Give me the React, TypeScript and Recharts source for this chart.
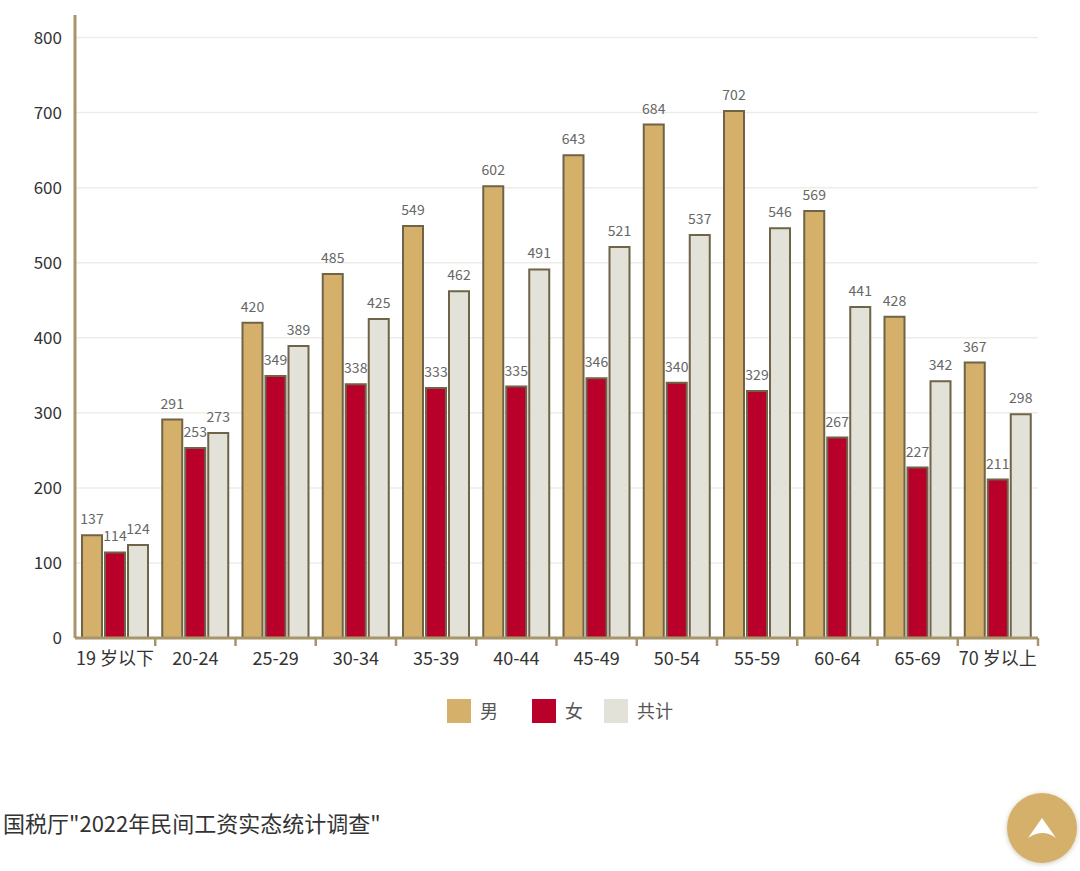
// App.tsx
import { BarChart, Bar, XAxis, YAxis, CartesianGrid, Legend, LabelList } from 'recharts';

const categories = ['19 岁以下', '20-24', '25-29', '30-34', '35-39', '40-44', '45-49', '50-54', '55-59', '60-64', '65-69', '70 岁以上'];
const male = [137, 291, 420, 485, 549, 602, 643, 684, 702, 569, 428, 367];
const female = [114, 253, 349, 338, 333, 335, 346, 340, 329, 267, 227, 211];
const total = [124, 273, 389, 425, 462, 491, 521, 537, 546, 441, 342, 298];
const yTicks = [0, 100, 200, 300, 400, 500, 600, 700, 800];

const data = categories.map((name, i) => ({ name, male: male[i], female: female[i], total: total[i] }));

const FONT = '"Noto Sans CJK SC", "Noto Sans", sans-serif';
const AXIS = '#a8956b';
const GOLD = '#d4b06a';
const RED = '#b8002a';
const BEIGE = '#e3e2d8';
const BAR_STROKE = '#6f6348';
const BAND = 963 / categories.length;

// tick mark sits on the category boundary, not under the label
const CategoryTick = ({ x, y, payload }: any) => (
  <g>
    <line x1={x + BAND / 2} x2={x + BAND / 2} y1={y - 8} y2={y} stroke={AXIS} strokeWidth={2.5} />
    <text x={x} y={y + 19} textAnchor="middle" fontSize={18} fill="#333" fontFamily={FONT}>
      {payload.value}
    </text>
  </g>
);

const legendGaps = [34, 21, 0];

const ChartLegend = ({ payload }: any) => (
  <div style={{ display: 'flex', justifyContent: 'flex-start', marginLeft: 447, fontFamily: FONT }}>
    {(payload || []).map((item: any, i: number) => (
      <div key={item.value} style={{ display: 'flex', alignItems: 'center', marginRight: legendGaps[i] }}>
        <span style={{ width: 24, height: 24, background: item.color, display: 'inline-block', marginRight: 9 }} />
        <span style={{ fontSize: 18, lineHeight: '24px', color: '#555', marginTop: -2 }}>{item.value}</span>
      </div>
    ))}
  </div>
);

const labelStyle = { fontSize: 14, fill: '#666', fontFamily: FONT };

export default function App() {
  return (
    <div style={{ position: 'absolute', left: 0, top: 0, width: 1080, height: 871, overflow: 'hidden', background: '#fff' }}>
      <BarChart
        width={1080}
        height={871}
        data={data}
        margin={{ top: 15, right: 42, bottom: 193, left: 0 }}
        barSize={20}
        barGap={3}
      >
        <CartesianGrid horizontal vertical={false} syncWithTicks stroke="#eeede5" strokeWidth={1.5} />
        <XAxis
          dataKey="name"
          interval={0}
          height={40}
          tickLine={false}
          axisLine={{ stroke: AXIS, strokeWidth: 3 }}
          tick={<CategoryTick />}
        />
        <YAxis
          width={75}
          domain={[0, 830]}
          ticks={yTicks}
          interval={0}
          tickLine={false}
          tickSize={0}
          tickMargin={13}
          axisLine={{ stroke: AXIS, strokeWidth: 3 }}
          tick={{ fontSize: 17, fill: '#333', fontFamily: FONT }}
        />
        <Legend
          layout="vertical"
          align="center"
          verticalAlign="middle"
          itemSorter={null}
          wrapperStyle={{ left: 0, top: 699, width: 1080 }}
          content={<ChartLegend />}
        />
        <Bar dataKey="male" name="男" fill={GOLD} stroke={BAR_STROKE} strokeWidth={2} isAnimationActive={false}>
          <LabelList dataKey="male" position="top" offset={11} style={labelStyle} />
        </Bar>
        <Bar dataKey="female" name="女" fill={RED} stroke={BAR_STROKE} strokeWidth={2} isAnimationActive={false}>
          <LabelList dataKey="female" position="top" offset={11} style={labelStyle} />
        </Bar>
        <Bar dataKey="total" name="共计" fill={BEIGE} stroke={BAR_STROKE} strokeWidth={2} isAnimationActive={false}>
          <LabelList dataKey="total" position="top" offset={11} style={labelStyle} />
        </Bar>
      </BarChart>
      <div style={{ position: 'absolute', left: 3, top: 806, fontSize: 22, lineHeight: '32px', color: '#333', fontFamily: FONT, whiteSpace: 'nowrap' }}>
        国税厅"2022年民间工资实态统计调查"
      </div>
      <div
        style={{
          position: 'absolute', left: 1007, top: 793, width: 70, height: 70, borderRadius: '50%',
          background: GOLD, boxShadow: '0 1px 5px rgba(120,100,60,0.35)',
        }}
      >
        <svg width={70} height={70}>
          <path d="M35 25 L49 45 Q36 35 21 45 Z" fill="#fff" />
        </svg>
      </div>
    </div>
  );
}
